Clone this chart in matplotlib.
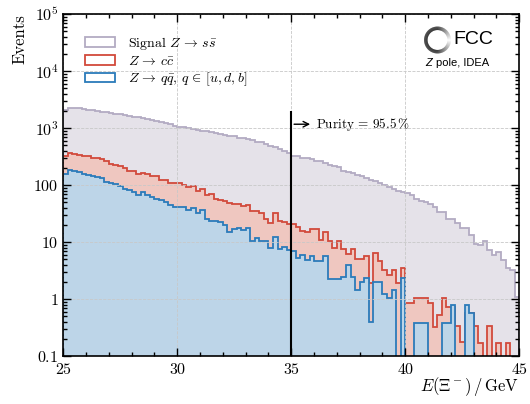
from matplotlib import pyplot as plt, patches
from matplotlib.collections import LineCollection
from matplotlib.ticker import FixedLocator, MultipleLocator, LogLocator, NullFormatter
import numpy as np

plt.rcParams["font.family"] = "serif"
plt.rcParams["font.serif"] = ["cmr10"]
plt.rcParams["mathtext.fontset"] = "cm"
plt.rcParams["axes.formatter.use_mathtext"] = True
plt.rcParams["axes.unicode_minus"] = False

# bin edges, 0.2 GeV bins between 25 and 45 GeV
edges = np.linspace(25, 45, 101)

# signal Z -> s sbar
signal = [2094, 2240, 2240, 2208, 2152, 2094, 2038, 1983, 1930, 1879, 1828, 1780, 1733, 1664, 1621,
          1578, 1536, 1495, 1436, 1380, 1325, 1272, 1222, 1158, 1097,
          1066, 1040, 998, 971, 933, 896, 873, 850, 815, 783, 763, 733, 713, 684, 667,
          640, 607, 582, 567, 523, 489, 463, 433, 405, 373,
          327, 318, 305, 297, 285, 270, 260, 243, 227, 221, 204, 178, 173, 162, 152,
          142, 132, 124, 119, 108, 101, 91, 86, 79, 75,
          74, 68, 57, 53, 50, 46, 41, 34, 34, 26, 25, 22, 18, 18, 13.4,
          9.2, 9.0, 10.3, 7.3, 6.0, 6.6, 4.9, 3.5, 3.3, 1.1]

# background Z -> c cbar
ccbar = [327, 364, 354, 340, 318, 318, 297, 297, 289, 260, 233, 227, 218, 198, 178,
         178, 158, 166, 158, 142, 142, 124, 124, 111, 108,
         108, 101, 91, 98, 79, 85, 68, 69, 57, 55, 53, 48, 46, 46, 43,
         45, 35, 35, 32, 26, 21.5, 32, 23.6, 23, 20.7,
         20.7, 18.8, 15.8, 14.8, 17.1, 17.1, 11.0, 15.4, 10.3, 8.0, 10.3, 7.6, 6.1, 7.6, 5.0,
         5.0, 5.7, 1.9, 6.4, 4.6, 3.3, 2.7, 3.3, 1.9, 3.5,
         0.85, 0.85, 1.07, 1.07, 1.07, 0.85, 0.33, 0.52, 1.07, 0.74, 0.74, 0.34, 0.18, 0.57, 0.57,
         0.34, 0.17, 0, 0.34, 0, 0.17, 0, 0.17, 0, 0]

# background Z -> q qbar, q in u,d,b
qqbar = [158, 185, 178, 169, 156, 148, 142, 138, 132, 113, 108, 104, 95, 86, 83,
         77, 68, 77, 68, 61, 57, 55, 50, 45, 42,
         42, 42, 37, 39, 32, 37, 26, 23.6, 23.6, 23, 20, 15.4, 16.9, 18, 16.4,
         18, 10.3, 11.7, 10.7, 10.7, 7.8, 12.5, 7.6, 8.4, 7.3,
         7.0, 5.2, 6.0, 4.9, 5.8, 4.6, 4.6, 5.8, 2.3, 2.3, 2.3, 2.5, 4.0, 2.5, 1.46,
         2.0, 2.4, 0.40, 2.0, 2.0, 1.22, 1.07, 1.46, 0, 2.4,
         0, 0, 0.39, 0.39, 0.39, 0, 0, 0, 0.39, 0.39, 0.79, 0, 0, 0.79, 0.57,
         0, 0, 0, 0, 0, 0, 0, 0, 0, 0]

labels = [r"Signal $Z\,\rightarrow\,s\bar{s}$", r"$Z\,\rightarrow\,c\bar{c}$",
          r"$Z\,\rightarrow\,q\bar{q}$, $q\,\in\,[u,d,b]$"]
linecolors = ["#b3abc3", "#d24a3c", "#2b7bba"]
fillcolors = ["#e5e2e9", "#efc7c0", "#bdd5e8"]

cut = 35.0
purity = 95.5

fig = plt.figure(figsize=(5.30, 4.04), dpi=100)
ax = fig.add_axes([0.1194, 0.1181, 0.8604, 0.8472])

handles = []
for vals, lc, fc, lab in zip([signal, ccbar, qqbar], linecolors, fillcolors, labels):
    v = np.clip(np.array(vals, dtype=float), 1e-3, None)
    ax.stairs(v, edges, fill=True, color=fc, baseline=1e-3)
    ax.stairs(v, edges, color=lc, lw=1.3, baseline=1e-3)
    handles.append(patches.Patch(facecolor="white", edgecolor=lc, lw=1.3, label=lab))

ax.set_yscale("log")
ax.set_xlim(25, 45)
ax.set_ylim(0.1, 1e5)

# cut line and arrow
ax.vlines(cut, 0.1, 2000, color="k", lw=1.5, zorder=5)
ax.annotate("", xy=(35.95, 1170), xytext=(cut, 1170),
            arrowprops=dict(arrowstyle="->", color="k", lw=1.0), zorder=5)
ax.text(36.1, 1170, "Purity = %.1f$\\,$%%" % purity, fontsize=9.5, va="center", ha="left")

# ticks
ax.xaxis.set_minor_locator(MultipleLocator(1))
yt = [0.1, 1, 10, 100, 1e3, 1e4, 1e5]
ax.yaxis.set_major_locator(FixedLocator(yt))
ax.set_yticklabels([r"$0.1$", r"$1$", r"$10$", r"$100$", r"$10^3$", r"$10^4$", r"$10^5$"])
ax.yaxis.set_minor_locator(LogLocator(base=10, subs=np.arange(2, 10), numticks=20))
ax.yaxis.set_minor_formatter(NullFormatter())
ax.set_xticks([25, 30, 35, 40, 45])
ax.set_xticklabels([r"$25$", r"$30$", r"$35$", r"$40$", r"$45$"])
ax.tick_params(which="both", direction="in", top=True, right=True, labelsize=11.5, width=1.0)
ax.tick_params(which="major", length=6)
ax.tick_params(which="minor", length=3)
for s in ax.spines.values():
    s.set_linewidth(1.2)
ax.tick_params(axis="x", pad=4)

ax.grid(True, which="major", ls="--", lw=0.6, color="#c8c8c8")
for gl in ax.get_xgridlines() + ax.get_ygridlines():
    gl.set_zorder(3)

ax.set_ylabel("Events", fontsize=12, loc="top")
ax.set_xlabel(r"$E(\Xi^-)\,/\,\mathrm{GeV}$", fontsize=12, loc="right", labelpad=-1)

ax.legend(handles=handles, loc="upper left", bbox_to_anchor=(0.02, 0.975), frameon=False,
          fontsize=10, handlelength=2.15, handleheight=0.7, handletextpad=0.95, labelspacing=0.2)

# FCC logo
lax = fig.add_axes([(437.5 - 15) / 530, 1 - (40 + 15) / 404, 30 / 530, 30 / 404])
lax.set_xlim(-1, 1)
lax.set_ylim(-1, 1)
lax.axis("off")
th = np.linspace(0, 2 * np.pi, 181)
pts = np.column_stack([0.78 * np.cos(th), 0.78 * np.sin(th)])
segs = np.stack([pts[:-1], pts[1:]], axis=1)
mid = np.degrees(0.5 * (th[:-1] + th[1:]))
grey = np.where(mid < 90, 1 - mid / 90, np.where(mid > 270, (mid - 270) / 90, 0))
lax.add_collection(LineCollection(segs, colors=[(g, g, g) for g in grey], lw=2.5))
fig.text(453 / 530, 1 - 40 / 404, "FCC", family="Liberation Sans", fontsize=14,
         va="center", ha="left")
fig.text(425 / 530, 1 - 63 / 404, "Z", family="Liberation Sans", style="italic",
         fontsize=8, va="center", ha="left")
fig.text(436.5 / 530, 1 - 63 / 404, "pole, IDEA", family="Liberation Sans",
         fontsize=8, va="center", ha="left")

fig.savefig("out.png", dpi=100)
